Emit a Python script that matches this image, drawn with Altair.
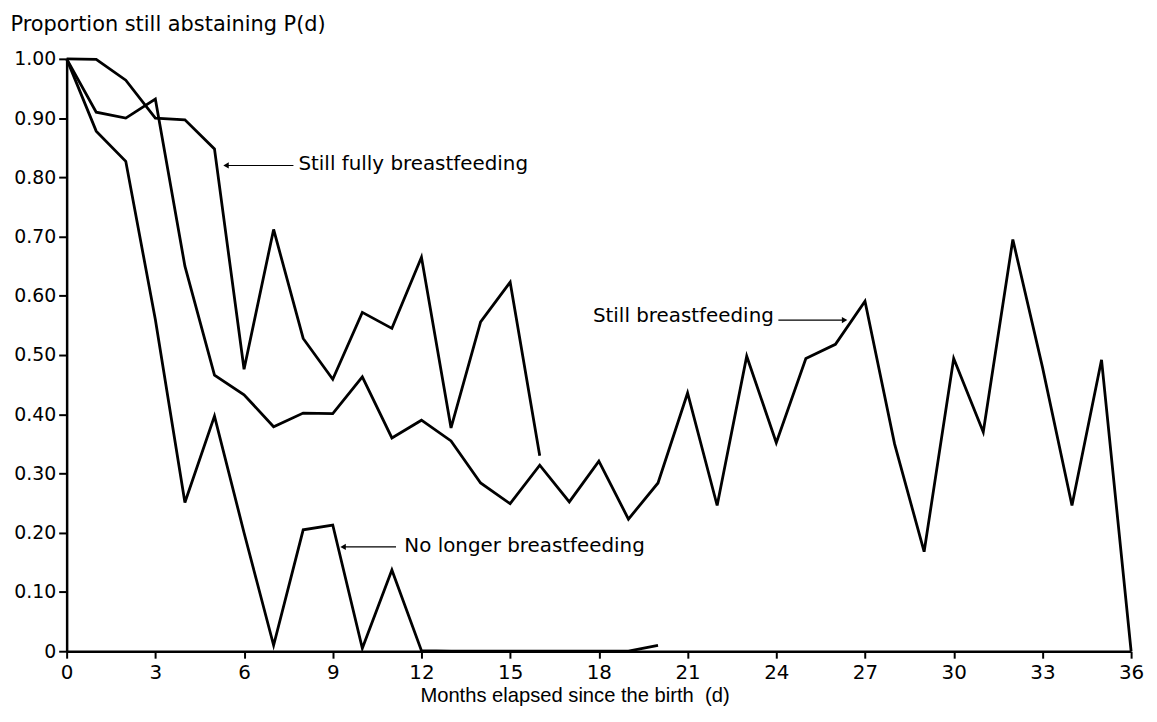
import altair as alt
import pandas as pd

# ---- data ----
months_still = list(range(0, 37))
still_bf = [1.00, 0.91, 0.90, 0.932, 0.65, 0.466, 0.433, 0.379, 0.402, 0.401,
            0.463, 0.36, 0.39, 0.355, 0.284, 0.249, 0.314, 0.252, 0.321, 0.223,
            0.284, 0.436, 0.246, 0.498, 0.352, 0.494, 0.518, 0.591, 0.35, 0.168,
            0.494, 0.37, 0.695, 0.48, 0.246, 0.492, 0.0]

months_fully = list(range(0, 17))
fully_bf = [1.00, 0.999, 0.964, 0.90, 0.897, 0.848, 0.476, 0.712, 0.528, 0.459,
            0.572, 0.545, 0.665, 0.377, 0.556, 0.623, 0.33]

months_nolonger = list(range(0, 21))
no_longer = [1.00, 0.878, 0.827, 0.56, 0.251, 0.397, 0.20, 0.01, 0.205, 0.213,
             0.005, 0.137, 0.001, 0, 0, 0, 0, 0, 0, 0, 0.01]

x_ticks = list(range(0, 37, 3))
y_ticks = [0, 0.1, 0.2, 0.3, 0.4, 0.5, 0.6, 0.7, 0.8, 0.9, 1.0]

# annotations (data units)
ann_text = ["Still fully breastfeeding", "Still breastfeeding", "No longer breastfeeding"]
ann_text_x = [7.84, 17.8, 11.42]
ann_text_y = [0.822, 0.566, 0.177]
arrow_tail_x = [7.67, 24.07, 11.14]
arrow_head_x = [5.39, 26.31, 9.35]
arrow_y = [0.820, 0.559, 0.176]
arrow_shape = ["triangle-left", "triangle-right", "triangle-left"]

FONT = "DejaVu Sans"

rows = []
for name, ms, vs in [("Still breastfeeding", months_still, still_bf),
                     ("Still fully breastfeeding", months_fully, fully_bf),
                     ("No longer breastfeeding", months_nolonger, no_longer)]:
    for m, v in zip(ms, vs):
        rows.append({"series": name, "month": m, "p": v})
df = pd.DataFrame(rows)

ann_df = pd.DataFrame({"text": ann_text, "x": ann_text_x, "y": ann_text_y})
arrow_df = pd.DataFrame({"tail": arrow_tail_x, "head": arrow_head_x, "y": arrow_y,
                         "shape": arrow_shape})

x_scale = alt.Scale(domain=[0, 36], nice=False, zero=False)
y_scale = alt.Scale(domain=[0, 1], nice=False)

x_axis = alt.Axis(values=x_ticks, title="Months elapsed since the birth \u00a0(d)",
                  grid=False, labelFont=FONT, labelFontSize=20, labelColor="black",
                  tickSize=7, tickWidth=2, tickColor="black", labelPadding=4,
                  domainColor="black", domainWidth=2.5,
                  titleFont="Liberation Sans", titleFontSize=20.3, titleFontWeight="normal",
                  titleColor="black", titleX=511, titleY=51, titleAlign="center",
                  titleBaseline="alphabetic", labelFlush=False)

y_axis = alt.Axis(values=y_ticks, title="Proportion still abstaining P(d)",
                  labelExpr="datum.value == 0 ? '0' : format(datum.value, '.2f')",
                  grid=False, labelFont=FONT, labelFontSize=19, labelColor="black",
                  tickSize=8, tickWidth=2, tickColor="black", labelPadding=3,
                  domainColor="black", domainWidth=2.5,
                  titleFont=FONT, titleFontSize=21, titleFontWeight="normal",
                  titleColor="black", titleAngle=0, titleX=-57, titleY=-29,
                  titleAlign="left", titleBaseline="alphabetic", labelFlush=False)

lines = alt.Chart(df).mark_line(color="black", strokeWidth=2.8, strokeJoin="miter").encode(
    x=alt.X("month:Q", scale=x_scale, axis=x_axis),
    y=alt.Y("p:Q", scale=y_scale, axis=y_axis),
    detail="series:N",
)

texts = alt.Chart(ann_df).mark_text(font=FONT, fontSize=20, color="black",
                                    align="left", baseline="middle").encode(
    x=alt.X("x:Q", scale=x_scale),
    y=alt.Y("y:Q", scale=y_scale),
    text="text:N",
)

arrow_lines = alt.Chart(arrow_df).mark_rule(color="black", strokeWidth=1.2).encode(
    x=alt.X("tail:Q", scale=x_scale),
    x2="head:Q",
    y=alt.Y("y:Q", scale=y_scale),
)

arrow_heads = alt.Chart(arrow_df).mark_point(filled=True, color="black", size=40,
                                             opacity=1).encode(
    x=alt.X("head:Q", scale=x_scale),
    y=alt.Y("y:Q", scale=y_scale),
    shape=alt.Shape("shape:N", scale=None, legend=None),
)

chart = alt.layer(lines, arrow_lines, arrow_heads, texts).properties(
    width=1071, height=596,
    autosize=alt.AutoSizeParams(type="none"),
    padding={"left": 59, "top": 49, "right": 18, "bottom": 60},
    background="white",
).configure_view(stroke=None)

chart.save("out.html", embed_options={"renderer": "svg", "actions": False})
